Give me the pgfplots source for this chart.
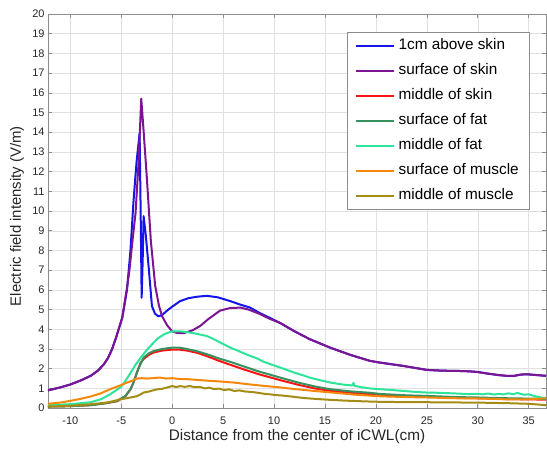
\documentclass[border=0pt]{standalone}
\usepackage{pgfplots}
\pgfplotsset{compat=1.18}
\usepackage{fontspec}
\setmainfont{Liberation Sans}
\definecolor{cBlue}{RGB}{20,20,235}
\definecolor{cPurple}{RGB}{125,20,145}
\definecolor{cRed}{RGB}{250,20,20}
\definecolor{cSfat}{RGB}{55,145,95}
\definecolor{cMfat}{RGB}{45,228,155}
\definecolor{cSmus}{RGB}{245,135,10}
\definecolor{cMmus}{RGB}{165,140,20}
\definecolor{axgray}{RGB}{140,140,140}
\begin{document}
\begin{tikzpicture}
\begin{axis}[
  scale only axis,
  width=498.5bp, height=394.5bp,
  xmin=-12.2, xmax=36.7, ymin=0, ymax=20,
  xtick={-10,-5,...,35}, ytick={0,1,...,20},
  grid=major,
  grid style={black!12, line width=0.5pt},
  axis line style={axgray, line width=0.6pt},
  tick style={axgray, line width=0.6pt},
  tick align=inside, major tick length=4bp,
  /pgf/number format/assume math mode=true,
  tick label style={font=\fontsize{11}{13}\selectfont, text=black!85},
  xticklabel style={inner sep=0pt, yshift=-9bp},
  every axis x label/.style={at={([yshift=-32bp]axis description cs:0.5,0)}, anchor=base, inner sep=0pt},
  every axis y label/.style={at={([xshift=-31bp,yshift=-5bp]axis description cs:0,0.5)}, anchor=center, rotate=90},
  xlabel style={font=\fontsize{15.4}{18}\selectfont, text=black!85},
  ylabel style={font=\fontsize{15}{18}\selectfont, text=black!85},
  xlabel={Distance from the center of iCWL(cm)},
  ylabel={Electric field intensity (V/m)},
  legend style={at={([xshift=-16bp,yshift=-18bp]axis description cs:1,1)}, anchor=north east,
    draw=axgray, fill=white, line width=0.6pt,
    font=\fontsize{15.4}{18}\selectfont,
    nodes={inner xsep=4bp, inner ysep=5.5bp, text height=11bp, text depth=3bp},
    row sep=0pt, inner xsep=7bp, inner ysep=1bp},
  legend cell align=left,
  legend image code/.code={\draw[#1, line width=2bp] plot coordinates {(0bp,0bp) (38bp,0bp)};},
]
\coordinate (sw) at (rel axis cs:0,0);
\coordinate (ne) at (rel axis cs:1,1);
% 1cm above skin
\addplot[cBlue, line width=2bp, line join=round] coordinates {
(-12.2,0.90) (-11,1.05) (-10,1.20) (-9,1.40) (-8,1.64) (-7.3,1.9) (-6.7,2.23) (-6.3,2.55) (-5.9,3.0) (-5.5,3.6) (-5.26,4.0) (-4.9,4.6) (-4.6,5.5) (-4.44,6.0) (-4.1,8.0) (-3.8,10.5) (-3.5,12.5) (-3.2,13.96) (-3.1,10.0) (-3.0,5.6) (-2.9,7.5) (-2.81,9.74) (-2.6,8.8) (-2.32,7.2) (-1.99,5.18) (-1.7,4.8) (-1.37,4.66) (-1.0,4.72) (-0.5,4.95) (0,5.15) (0.78,5.43) (1.6,5.58) (2.4,5.65) (3.4,5.7) (4.5,5.62) (5.7,5.43) (6.7,5.25) (7.65,5.1) (8.5,4.85) (9.5,4.6) (10.6,4.32) (12,3.9) (13.5,3.5) (15.5,3.07) (17.5,2.7) (19.4,2.4) (20.4,2.31) (22.7,2.14) (25,1.94) (26.5,1.9) (27.9,1.89) (29,1.87) (29.9,1.84) (31,1.75) (32,1.68) (32.8,1.64) (33.5,1.63) (34.2,1.7) (34.8,1.72) (35.7,1.68) (36.7,1.64)
};
\addlegendentry{1cm above skin}
% surface of skin
\addplot[cPurple, line width=2bp, line join=round] coordinates {
(-12.2,0.90) (-11,1.05) (-10,1.20) (-9,1.40) (-8,1.64) (-7.3,1.9) (-6.7,2.23) (-6.3,2.55) (-5.9,3.0) (-5.5,3.6) (-5.26,4.0) (-4.9,4.6) (-4.6,5.6) (-4.44,6.1) (-4.2,7.0) (-3.9,8.5) (-3.6,9.9) (-3.3,12.5) (-3.04,15.7) (-2.8,14.0) (-2.48,11.6) (-2.1,8.5) (-1.67,6.2) (-1.3,5.2) (-1.0,4.67) (-0.5,4.2) (0,3.9) (0.46,3.82) (1.1,3.8) (2,3.95) (2.75,4.17) (3.5,4.5) (4.7,4.95) (5.7,5.08) (6.7,5.1) (7.5,5.0) (8.5,4.8) (9.5,4.55) (10.6,4.32) (12,3.9) (13.5,3.5) (15.5,3.07) (17.5,2.7) (19.4,2.4) (20.4,2.31) (22.7,2.14) (25,1.94) (26.5,1.9) (27.9,1.89) (29,1.87) (29.9,1.84) (31,1.75) (32,1.68) (32.8,1.64) (33.5,1.63) (34.2,1.7) (34.8,1.72) (35.7,1.68) (36.7,1.64)
};
\addlegendentry{surface of skin}
% middle of skin
\addplot[cRed, line width=2bp, line join=round] coordinates {
(-12.2,0.08) (-10,0.1) (-8,0.15) (-6.5,0.25) (-5.4,0.35) (-4.6,0.6) (-4.1,0.95) (-3.8,1.3) (-3.4,1.9) (-3.1,2.3) (-2.8,2.5) (-2.3,2.7) (-1.83,2.82) (-1,2.92) (0,2.97) (0.7,2.97) (1.44,2.92) (2.5,2.8) (3.5,2.62) (4.7,2.38) (5.7,2.2) (7,1.97) (8.5,1.72) (10.6,1.42) (12.5,1.17) (14,1.0) (15.5,0.88) (17.5,0.77) (20.4,0.68) (23,0.6) (25,0.57) (28,0.52) (30,0.5) (33,0.46) (36.7,0.43)
};
\addlegendentry{middle of skin}
% surface of fat
\addplot[cSfat, line width=2bp, line join=round] coordinates {
(-12.2,0.08) (-10,0.1) (-8,0.15) (-6.5,0.25) (-5.4,0.37) (-4.6,0.62) (-4.1,0.96) (-3.8,1.3) (-3.4,1.9) (-3.1,2.25) (-2.8,2.57) (-2.3,2.78) (-1.83,2.9) (-1,3.0) (0,3.07) (0.7,3.07) (1.44,3.0) (2.5,2.88) (3.5,2.72) (4.7,2.5) (5.7,2.35) (7,2.12) (8.5,1.86) (10.6,1.55) (12.5,1.28) (14,1.1) (15.5,0.96) (17.5,0.85) (19.4,0.78) (20.4,0.72) (23,0.65) (25,0.62) (28,0.56) (30,0.54) (33,0.5) (36.7,0.47)
};
\addlegendentry{surface of fat}
% middle of fat
\addplot[cMfat, line width=2bp, line join=round] coordinates {
(-12.2,0.15) (-10,0.2) (-8,0.3) (-7,0.45) (-6.1,0.7) (-5.1,1.05) (-4.8,1.22) (-4.2,1.7) (-3.6,2.2) (-3.1,2.55) (-2.5,2.95) (-1.5,3.5) (-0.8,3.75) (0,3.9) (0.7,3.9) (1.44,3.86) (2.3,3.78) (3.4,3.66) (4.0,3.52) (4.7,3.33) (5.7,3.07) (6.5,2.9) (7.5,2.68) (8.2,2.55) (9,2.35) (9.8,2.2) (10.6,2.06) (11.3,1.93) (12,1.8) (12.8,1.67) (13.5,1.55) (14.5,1.42) (15.5,1.3) (16.3,1.23) (17,1.18) (17.7,1.15) (17.8,1.28) (17.9,1.13) (18.6,1.06) (19.4,1.0) (20.4,0.96) (21.5,0.92) (22.5,0.88) (23.7,0.83) (25,0.79) (26,0.78) (27,0.76) (28,0.74) (29,0.71) (29.9,0.73) (30.5,0.7) (31,0.74) (31.6,0.69) (32,0.72) (32.5,0.7) (33,0.75) (33.5,0.71) (33.9,0.77) (34.5,0.68) (35,0.7) (35.5,0.62) (36,0.56) (36.7,0.5)
};
\addlegendentry{middle of fat}
% surface of muscle
\addplot[cSmus, line width=2bp, line join=round] coordinates {
(-12.2,0.22) (-11,0.28) (-10,0.37) (-9,0.47) (-8,0.59) (-7,0.75) (-6.1,0.96) (-5.1,1.15) (-4.8,1.22) (-4.0,1.38) (-3.46,1.5) (-3.0,1.52) (-2.5,1.5) (-2,1.52) (-1.2,1.55) (-0.6,1.5) (0,1.52) (0.7,1.48) (1.44,1.47) (2.2,1.44) (3,1.41) (3.8,1.38) (4.5,1.36) (5.2,1.33) (6,1.3) (7,1.24) (8,1.18) (9.2,1.12) (10.6,1.05) (11.8,0.98) (13,0.92) (14.2,0.86) (15.5,0.8) (16.8,0.74) (18,0.68) (19.2,0.64) (20.4,0.6) (21.7,0.58) (23,0.56) (25,0.54) (26.5,0.52) (28,0.5) (30,0.49) (31.5,0.47) (33,0.44) (34,0.45) (35,0.45) (35.8,0.47) (36.7,0.5)
};
\addlegendentry{surface of muscle}
% middle of muscle
\addplot[cMmus, line width=2bp, line join=round] coordinates {
(-12.2,0.08) (-11,0.1) (-10,0.12) (-9,0.16) (-8,0.2) (-7.2,0.24) (-6.5,0.28) (-5.8,0.35) (-5.1,0.45) (-4.5,0.5) (-4,0.55) (-3.5,0.6) (-3.1,0.7) (-2.8,0.79) (-2.3,0.84) (-1.9,0.9) (-1.5,0.95) (-1.0,0.98) (-0.5,1.05) (0,1.12) (0.4,1.07) (0.8,1.12) (1.2,1.08) (1.76,1.12) (2.2,1.06) (2.7,1.08) (3.2,1.0) (3.6,1.04) (4.1,0.97) (4.6,0.99) (5.1,0.92) (5.6,0.95) (6.1,0.87) (6.6,0.9) (7.2,0.84) (7.8,0.82) (8.4,0.78) (9,0.73) (9.6,0.7) (10.2,0.66) (10.8,0.64) (11.5,0.6) (12.3,0.55) (13,0.51) (14,0.47) (15.5,0.42) (17,0.38) (18,0.36) (19,0.34) (20.4,0.32) (22,0.31) (25,0.3) (27,0.29) (30,0.28) (32,0.26) (33,0.25) (35,0.22) (36.7,0.15)
};
\addlegendentry{middle of muscle}
\end{axis}
\pgfresetboundingbox
\path ([shift={(-48bp,-40bp)}]sw) rectangle ([shift={(1bp,14bp)}]ne);
\end{tikzpicture}
\end{document}
